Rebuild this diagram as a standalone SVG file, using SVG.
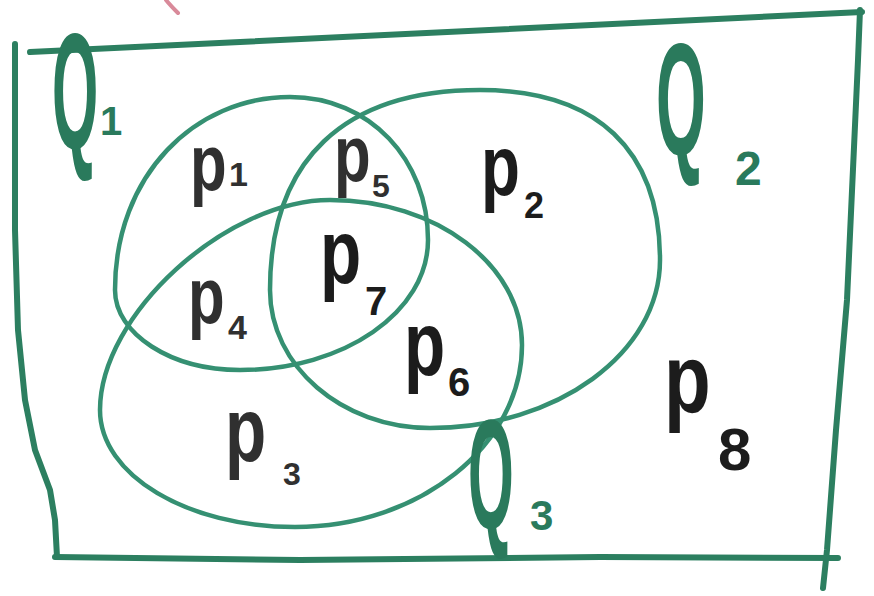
<svg xmlns="http://www.w3.org/2000/svg" width="874" height="596" viewBox="0 0 874 596">
<style>
.frame{fill:none;stroke:#2c7f60;stroke-width:6;stroke-linecap:round;stroke-linejoin:round}
.set{fill:none;stroke:#359072;stroke-width:4.5;stroke-linecap:round}
.p{font-family:"Liberation Sans","DejaVu Sans",sans-serif;font-weight:bold;fill:#303030}
.pd{font-family:"Liberation Sans","DejaVu Sans",sans-serif;font-weight:bold;fill:#1c1c1c}
.q{font-family:"Liberation Sans","DejaVu Sans",sans-serif;font-weight:bold;fill:#2a7a5c}
</style>
<rect width="874" height="596" fill="#ffffff"/>
<path d="M166,0 C170,5 174,9 178,13" fill="none" stroke="#d98a9a" stroke-width="4" stroke-linecap="round"/>
<g id="frame">
<path class="frame" d="M30,52 L862,12"/>
<path class="frame" d="M860,10 L858,60 L847,300 L836,430 L827,550 L823,588"/>
<path class="frame" d="M15,44 L15,230 L18,330 L25,400 L35,450 L50,490 L55,520 L57,557"/>
<path class="frame" d="M55,557 L300,560 L600,557 L838,558"/>
</g>
<g id="connectors">
<path id="set-q1" class="set" d="M115,290 C115,175 195,97 290,97 C370,97 428,160 428,240 C428,312 344,370 240,370 C171,370 115,334 115,290 Z"/>
<path id="set-q2" class="set" d="M270,290 C270,160 344,90 480,90 C597,90 660,150 660,260 C660,353 557,428 430,428 C342,428 270,366 270,290 Z"/>
<path id="set-q3" class="set" d="M100,410 C100,315 226,200 330,200 C436,200 522,265 522,345 C522,445 420,527 295,527 C187,527 100,475 100,410 Z"/>
</g>
<g id="label-q1">
<text class="q" font-size="165" transform="translate(52,148) scale(0.36,1)">Q</text>
<text class="q" font-size="40" x="100" y="135">1</text>
</g>
<g id="label-q2">
<text class="q" font-size="160" transform="translate(656,155) scale(0.4,1)">Q</text>
<text class="q" font-size="48" x="735" y="185">2</text>
</g>
<g id="label-q3">
<text class="q" font-size="155" transform="translate(468,528) scale(0.38,1)">Q</text>
<text class="q" font-size="42" x="530" y="530">3</text>
</g>
<g id="region-p1">
<text class="p" font-size="80" transform="translate(190,190) scale(0.75,1)">p</text>
<text class="p" font-size="34" x="229" y="186">1</text>
</g>
<g id="region-p5">
<text class="p" font-size="80" transform="translate(334,181) scale(0.75,1)">p</text>
<text class="p" font-size="32" x="372" y="197">5</text>
</g>
<g id="region-p2">
<text class="pd" font-size="85" transform="translate(481,195) scale(0.75,1)">p</text>
<text class="pd" font-size="36" x="524" y="218">2</text>
</g>
<g id="region-p4">
<text class="p" font-size="80" transform="translate(188,323) scale(0.75,1)">p</text>
<text class="p" font-size="34" x="228" y="339">4</text>
</g>
<g id="region-p7">
<text class="pd" font-size="90" transform="translate(320,283) scale(0.75,1)">p</text>
<text class="pd" font-size="40" x="365" y="315">7</text>
</g>
<g id="region-p6">
<text class="pd" font-size="90" transform="translate(404,375) scale(0.75,1)">p</text>
<text class="pd" font-size="40" x="448" y="396">6</text>
</g>
<g id="region-p3">
<text class="p" font-size="90" transform="translate(225,461) scale(0.75,1)">p</text>
<text class="p" font-size="32" x="283" y="485">3</text>
</g>
<g id="region-p8">
<text class="pd" font-size="98" transform="translate(664,413) scale(0.78,1)">p</text>
<text class="pd" font-size="60" x="718" y="470">8</text>
</g>
</svg>
